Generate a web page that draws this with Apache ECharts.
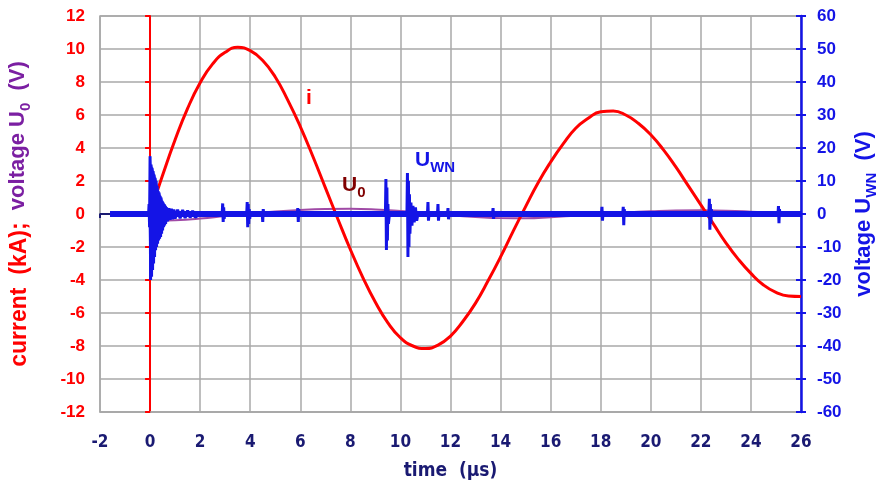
<!DOCTYPE html>
<html>
<head>
<meta charset="utf-8">
<script src="https://cdn.jsdelivr.net/npm/echarts@6/dist/echarts.min.js"></script>
<style>
  html, body { margin: 0; padding: 0; background: #fff; }
  #chart { width: 880px; height: 487px; }
</style>
</head>
<body>
<div id="chart"></div>
<script>
// current i (kA)
var currentTime = [0, 0.25, 0.5, 1, 1.5, 2, 2.5, 3, 3.5, 4, 4.5, 5, 5.5, 6, 6.5, 7, 7.5, 8, 8.5, 9, 9.5,
  10, 10.5, 11, 11.5, 12, 12.5, 13, 13.5, 14, 14.5, 15, 15.5, 16, 16.5, 17, 17.5, 18, 18.5, 19, 19.5,
  20, 20.5, 21, 21.5, 22, 22.5, 23, 23.5, 24, 24.5, 25, 25.5, 26];
var currentKA = [0, 1.2, 2.35, 4.5, 6.4, 7.95, 9.1, 9.8, 10.1, 9.9, 9.3, 8.3, 6.9, 5.3, 3.5, 1.6, -0.3, -2.15, -3.85, -5.35, -6.6,
  -7.5, -8.0, -8.15, -7.95, -7.4, -6.5, -5.4, -4.05, -2.6, -1.05, 0.45, 1.9, 3.15, 4.25, 5.2, 5.8, 6.2, 6.25, 6.0, 5.5,
  4.8, 3.9, 2.85, 1.7, 0.55, -0.6, -1.75, -2.75, -3.6, -4.3, -4.75, -4.97, -5.0];

// voltage U0 (V), small purple trace on the left scale
var u0Time = [-2, -0.2, 0.3, 1, 2, 3, 4, 5, 6, 7, 8, 9, 10, 11, 12, 13, 14, 15, 16, 17, 18, 19, 20, 21, 22, 23, 24, 25, 26];
var u0Volt = [0, 0, -0.4, -0.38, -0.28, -0.12, 0.03, 0.15, 0.24, 0.3, 0.32, 0.28, 0.18, 0.05, -0.08, -0.18, -0.25, -0.26,
  -0.2, -0.1, 0, 0.09, 0.16, 0.21, 0.22, 0.2, 0.14, 0.06, 0];

// voltage UWN (V): noisy baseline, the burst at t = 0 and the later spikes
var uwnBaseTime = [-1.6, 26];
var uwnBaseVolt = [0, 0];
var uwnLeadTime = [-2, -2, -1.6];
var uwnLeadVolt = [-1.2, 0, 0];
var burstTime = [-0.06, -0.02, 0, 0.02, 0.04, 0.08, 0.12, 0.16, 0.2, 0.24, 0.28, 0.32, 0.36, 0.4, 0.44, 0.48, 0.52, 0.56, 0.6, 0.66, 0.72];
var burstTop = [0, 3, 17.5, 15, 15, 14, 13, 12, 11, 10, 8.5, 7, 6.5, 5.5, 5, 4, 3.5, 3, 2.5, 2, 0];
var burstBottom = [0, -4, -18, -20, -19, -17, -15, -13, -11, -10, -9, -8, -7.5, -7, -6, -5, -4, -3.5, -3, -2.2, 0];
var spikeTime = [
  -0.06, -0.04, -0.02, 0, 0.02, 0.04, 0.06, 0.08, 0.1, 0.12, 0.14, 0.16, 0.18, 0.2, 0.22, 0.24, 0.26, 0.28,
  0.3, 0.32, 0.34, 0.36, 0.38, 0.4, 0.42, 0.44, 0.46, 0.48, 0.5, 0.52, 0.54, 0.56, 0.58, 0.6, 0.62, 0.66,
  0.7, 0.75, 0.8, 0.85, 0.9, 0.95, 1.0, 1.1, 1.2, 1.3, 1.4, 1.5, 1.6, 1.7, 1.8, 2.0,
  2.88, 2.9, 2.92, 2.94, 2.96, 2.98,
  3.86, 3.88, 3.9, 3.92, 3.94, 3.96, 3.98, 4.0,
  4.48, 4.5, 4.52, 4.54,
  5.88, 5.9, 5.92, 5.94, 5.96,
  9.4, 9.42, 9.44, 9.46, 9.48, 9.5, 9.52, 9.56,
  10.26, 10.28, 10.3, 10.32, 10.34, 10.36, 10.38, 10.42, 10.46, 10.5, 10.55, 10.6, 10.65, 10.7,
  11.08, 11.1, 11.12, 11.14,
  11.48, 11.5, 11.52, 11.54,
  11.88, 11.9, 11.92, 11.94,
  13.68, 13.7, 13.72, 13.74,
  18.03, 18.05, 18.07, 18.09,
  18.88, 18.9, 18.92, 18.94, 18.96,
  22.32, 22.34, 22.36, 22.38, 22.4, 22.42, 22.44,
  25.08, 25.1, 25.12, 25.14, 25.16];
var spikeVolt = [
  0, 3, -4, 17.5, -20, 15, -19, 14, -17, 13, -15, 12, -13, 11, -11, 10, -10, 8.5,
  -9, 7, -8, 6.5, -7.5, 5.5, -7, 5, -6, 4, -5, 3.5, -4, 3, -3.5, 2.5, -3, 2,
  -2.2, 1.8, -1.8, 1.6, -1.6, 1.4, -1.4, 1.3, -1.3, 1.2, -1.2, 1.1, -1.1, 1.0, -1.0, 0,
  0, 3.2, -2.4, 2, -1.5, 0,
  0, 3.6, -4, 3, -3, 1.5, -1.5, 0,
  0, -2.4, 1.5, 0,
  0, 1.8, -2.4, 1.5, 0,
  0, 10.6, -10.9, 8, -8, 3, -3, 0,
  0, 12.4, -13, 10, -10, 6, -6, 3.5, -3.5, 2.5, -2.5, 2, -2, 0,
  0, 3.6, -2, 0,
  0, 3, -2, 0,
  0, 1.8, -1.6, 0,
  0, 1.8, -1.5, 0,
  0, 2.2, -2, 0,
  0, 2.2, -3.4, 1.5, 0,
  0, 4.6, -4.8, 3, -3, 1.5, 0,
  0, 2.4, -2.8, 1.5, 0];

function pairs(xs, ys) {
  return xs.map(function (x, i) { return [x, ys[i]]; });
}

var red = '#ff0000';
var purple = '#7b1fa2';
var blue = '#1414e6';
var navy = '#1a1a72';
var gridGray = '#a8a8a8';
var font = '"Liberation Sans", Arial, sans-serif';
var narrow = '"Liberation Sans Narrow", "DejaVu Sans Condensed", "Liberation Sans", sans-serif';

var chart = echarts.init(document.getElementById('chart'), null, { renderer: 'canvas' });
chart.setOption({
  animation: false,
  backgroundColor: '#fff',
  grid: {
    left: 100, right: 79, top: 16, bottom: 75, containLabel: false, outerBoundsMode: 'none',
    show: true, borderColor: gridGray, borderWidth: 1.5
  },
  xAxis: {
    type: 'value', min: -2, max: 26, interval: 2,
    axisLine: { onZero: false, lineStyle: { color: gridGray, width: 1.5 } },
    axisTick: { show: false },
    axisLabel: { color: navy, fontSize: 17, fontWeight: 'bold', fontFamily: narrow, margin: 22 },
    splitLine: { lineStyle: { color: gridGray, width: 1.5 } },
    name: 'time  (µs)', nameLocation: 'middle', nameGap: 50,
    nameTextStyle: { color: navy, fontSize: 19, fontWeight: 'bold', fontFamily: narrow }
  },
  yAxis: [{
    type: 'value', position: 'left', min: -12, max: 12, interval: 2,
    axisLine: { show: false },
    axisTick: { show: false },
    axisLabel: { color: red, fontSize: 17, fontWeight: 'bold', fontFamily: font, margin: 15 },
    splitLine: { lineStyle: { color: gridGray, width: 1.5 } },
    name: '{r|current  (kA);}{p|  voltage U}{ps|0}{p|  (V)}',
    nameLocation: 'middle', nameRotate: 90, nameGap: 67,
    nameTextStyle: {
      fontFamily: font, fontWeight: 'bold', fontSize: 22,
      rich: {
        r: { color: red, fontSize: 23, fontWeight: 'bold', fontFamily: font },
        p: { color: purple, fontSize: 22, fontWeight: 'bold', fontFamily: font, verticalAlign: 'bottom', padding: [0, 0, 4, 0] },
        ps: { color: purple, fontSize: 15, fontWeight: 'bold', fontFamily: font, verticalAlign: 'bottom' }
      }
    }
  }, {
    type: 'value', position: 'left', min: -12, max: 12, interval: 2,
    axisLine: { show: true, onZero: true, onZeroAxisIndex: 0, lineStyle: { color: red, width: 2 } },
    axisTick: { show: true, length: 5, lineStyle: { color: red, width: 2 } },
    axisLabel: { show: false },
    splitLine: { show: false }
  }, {
    type: 'value', position: 'right', min: -60, max: 60, interval: 10,
    axisLine: { show: true, lineStyle: { color: blue, width: 2.5 } },
    axisTick: { show: true, length: 5, lineStyle: { color: blue, width: 2 } },
    axisLabel: { color: blue, fontSize: 17, fontWeight: 'bold', fontFamily: font, margin: 16 },
    splitLine: { show: false },
    name: '{b|voltage U}{bs|WN}{b|  (V)}',
    nameLocation: 'middle', nameRotate: 90, nameGap: 52,
    nameTextStyle: {
      fontFamily: font, fontWeight: 'bold', fontSize: 22,
      rich: {
        b: { color: blue, fontSize: 22, fontWeight: 'bold', fontFamily: font, verticalAlign: 'bottom', padding: [0, 0, 4, 0] },
        bs: { color: blue, fontSize: 15, fontWeight: 'bold', fontFamily: font, verticalAlign: 'bottom' }
      }
    }
  }, {
    type: 'value', position: 'right', min: -60, max: 60, interval: 10,
    axisLine: { show: false },
    axisTick: { show: true, inside: true, length: 5, lineStyle: { color: blue, width: 2 } },
    axisLabel: { show: false },
    splitLine: { show: false }
  }],
  graphic: [
    { type: 'text', left: 306, top: 88, z: 100,
      style: { text: 'i', fill: red, font: 'bold 21px ' + font } },
    { type: 'text', left: 342, top: 175, z: 100,
      style: {
        text: '{u|U}{s|0}',
        rich: {
          u: { fill: '#800000', fontSize: 21, fontWeight: 'bold', fontFamily: font, verticalAlign: 'bottom', padding: [0, 0, 4, 0] },
          s: { fill: '#800000', fontSize: 15, fontWeight: 'bold', fontFamily: font, verticalAlign: 'bottom' }
        }
      } },
    { type: 'text', left: 415, top: 150, z: 100,
      style: {
        text: '{u|U}{s|WN}',
        rich: {
          u: { fill: blue, fontSize: 21, fontWeight: 'bold', fontFamily: font, verticalAlign: 'bottom', padding: [0, 0, 4, 0] },
          s: { fill: blue, fontSize: 15, fontWeight: 'bold', fontFamily: font, verticalAlign: 'bottom' }
        }
      } }
  ],
  series: [{
    name: 'U0', type: 'line', yAxisIndex: 0, smooth: true, symbol: 'none',
    lineStyle: { color: '#a04aa6', width: 2 },
    data: pairs(u0Time, u0Volt)
  }, {
    name: 'i', type: 'line', yAxisIndex: 0, smooth: true, symbol: 'none',
    lineStyle: { color: red, width: 3 },
    data: pairs(currentTime, currentKA)
  }, {
    name: 'lead', type: 'line', yAxisIndex: 2, symbol: 'none',
    lineStyle: { color: navy, width: 2 },
    data: pairs(uwnLeadTime, uwnLeadVolt)
  }, {
    name: 'UWN', type: 'line', yAxisIndex: 2, symbol: 'none',
    lineStyle: { color: blue, width: 6 },
    data: pairs(uwnBaseTime, uwnBaseVolt)
  }, {
    name: 'burst top', type: 'line', yAxisIndex: 2, symbol: 'none',
    lineStyle: { color: blue, width: 1.5 },
    areaStyle: { color: blue, opacity: 1, origin: 'auto' },
    data: pairs(burstTime, burstTop)
  }, {
    name: 'burst bottom', type: 'line', yAxisIndex: 2, symbol: 'none',
    lineStyle: { color: blue, width: 1.5 },
    areaStyle: { color: blue, opacity: 1, origin: 'auto' },
    data: pairs(burstTime, burstBottom)
  }, {
    name: 'UWN spikes', type: 'line', yAxisIndex: 2, symbol: 'none',
    lineStyle: { color: blue, width: 3 },
    data: pairs(spikeTime, spikeVolt)
  }]
});
</script>
</body>
</html>
